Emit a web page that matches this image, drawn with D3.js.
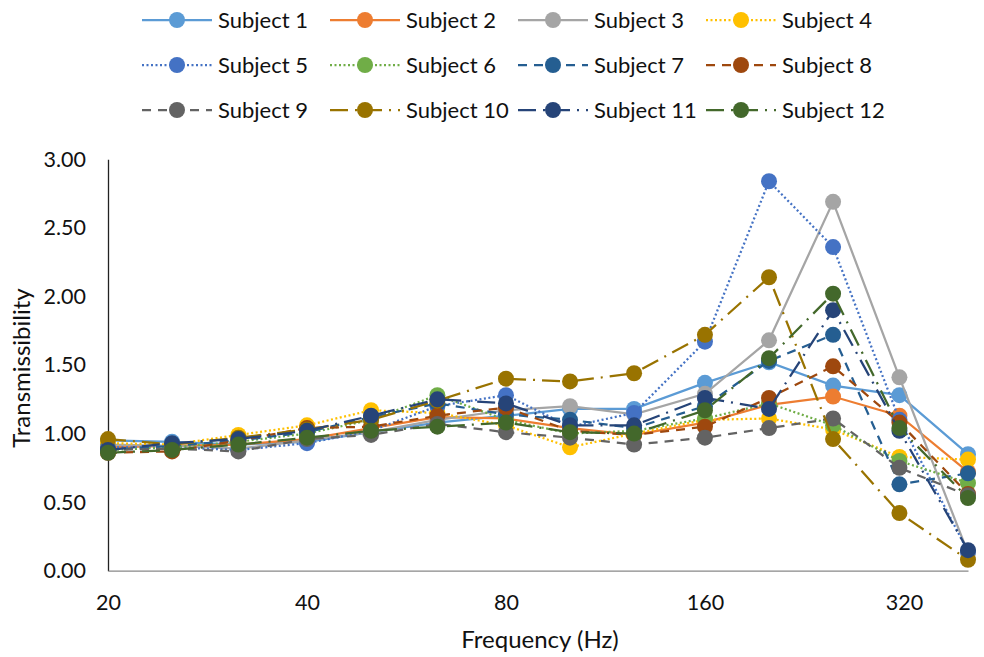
<!DOCTYPE html>
<html><head><meta charset="utf-8">
<script src="https://cdn.jsdelivr.net/npm/d3@7"></script>
<style>
html,body{margin:0;padding:0;background:#fff;}
text{font-family:Lato,"Open Sans",sans-serif;fill:#111;}
</style></head>
<body><svg id="chart" width="984" height="657"></svg>
<script>
const frequencies = [20, 25, 31.5, 40, 50, 63, 80, 100, 125, 160, 200, 250, 315, 400];
const xTickValues = [20, 40, 80, 160, 320];
const yTickValues = [0, 0.5, 1, 1.5, 2, 2.5, 3];
const seriesNames = ["Subject 1","Subject 2","Subject 3","Subject 4","Subject 5","Subject 6","Subject 7","Subject 8","Subject 9","Subject 10","Subject 11","Subject 12"];
const s1  = [0.95, 0.94, 0.92, 0.94, 1.01, 1.08, 1.13, 1.18, 1.18, 1.37, 1.52, 1.35, 1.28, 0.85];
const s2  = [0.90, 0.91, 0.92, 0.96, 1.04, 1.12, 1.11, 1.04, 0.99, 1.08, 1.21, 1.27, 1.13, 0.72];
const s3  = [0.92, 0.91, 0.89, 0.95, 1.01, 1.10, 1.17, 1.20, 1.14, 1.29, 1.68, 2.69, 1.41, 0.13];
const s4  = [0.93, 0.92, 0.99, 1.06, 1.17, 1.15, 1.06, 0.90, 1.00, 1.10, 1.11, 1.03, 0.83, 0.81];
const s5  = [0.90, 0.90, 0.88, 0.93, 1.02, 1.20, 1.28, 1.05, 1.15, 1.67, 2.84, 2.36, 1.10, 0.14];
const s6  = [0.88, 0.90, 0.94, 1.00, 1.10, 1.28, 1.10, 1.00, 1.02, 1.11, 1.22, 1.06, 0.80, 0.64];
const s7  = [0.88, 0.91, 0.95, 1.01, 1.12, 1.22, 1.14, 1.10, 1.04, 1.20, 1.53, 1.72, 0.63, 0.71];
const s8  = [0.86, 0.87, 0.95, 1.04, 1.05, 1.13, 1.19, 1.02, 0.99, 1.05, 1.26, 1.49, 1.08, 0.56];
const s9  = [0.88, 0.89, 0.87, 0.96, 0.99, 1.07, 1.01, 0.97, 0.92, 0.97, 1.04, 1.11, 0.75, 0.55];
const s10 = [0.96, 0.92, 0.97, 1.03, 1.10, 1.24, 1.40, 1.38, 1.44, 1.72, 2.14, 0.96, 0.42, 0.08];
const s11 = [0.88, 0.93, 0.96, 1.02, 1.13, 1.25, 1.22, 1.06, 1.06, 1.26, 1.18, 1.90, 1.02, 0.15];
const s12 = [0.86, 0.88, 0.92, 0.97, 1.02, 1.05, 1.08, 1.01, 1.00, 1.17, 1.55, 2.02, 1.04, 0.53];
const seriesValues = [s1,s2,s3,s4,s5,s6,s7,s8,s9,s10,s11,s12];

const colors = ["#5B9BD5","#ED7D31","#A5A5A5","#FFC000","#4472C4","#70AD47","#255E91","#9E480E","#636363","#997300","#264478","#43682B"];
const dashes = ["none","none","none","2,2.5","2,2.5","2,2.5","9,7","9,7","9,7","18,7,2,7","18,7,2,7","18,7,2,7"];

const svg = d3.select("#chart");
const x = d3.scaleLog().base(2).domain([20, 400]).range([108, 968]);
const y = d3.scaleLinear().domain([0, 3]).range([570.7, 159.3]);

// axes
const yAxis = svg.append("g").attr("transform","translate(108,0)")
  .call(d3.axisLeft(y).tickValues(yTickValues).tickSize(0).tickPadding(22).tickFormat(d3.format(".2f")));
yAxis.select(".domain").attr("stroke","#222").attr("stroke-width",1.3);
yAxis.selectAll("text").style("font-size","21.5px").attr("fill","#111");

const xAxis = svg.append("g").attr("transform","translate(0,570.7)")
  .call(d3.axisBottom(x).tickValues(xTickValues).tickSize(0).tickPadding(24).tickFormat(d3.format("d")));
xAxis.select(".domain").attr("stroke","#888").attr("stroke-width",1.3);
xAxis.selectAll("text").style("font-size","21.5px").attr("fill","#111");

svg.append("text").attr("transform","translate(30,368) rotate(-90)")
  .attr("text-anchor","middle").style("font-size","24px").text("Transmissibility");
svg.append("text").attr("x",540).attr("y",648)
  .attr("text-anchor","middle").style("font-size","24px").text("Frequency (Hz)");

const line = d3.line().x((d,i)=>x(frequencies[i])).y(d=>y(d));

seriesValues.forEach((vals, k) => {
  const g = svg.append("g");
  g.append("path").attr("d", line(vals)).attr("fill","none")
    .attr("stroke", colors[k]).attr("stroke-width", 2.25)
    .attr("stroke-dasharray", dashes[k]);
  g.selectAll("circle").data(vals).join("circle")
    .attr("cx",(d,i)=>x(frequencies[i])).attr("cy",d=>y(d)).attr("r",8)
    .attr("fill", colors[k]);
});

// legend
const legX = [142, 330, 518, 706];
const legY = [20, 65, 110];
seriesNames.forEach((name, k) => {
  const cx = legX[k % 4], cy = legY[Math.floor(k / 4)];
  const g = svg.append("g").attr("transform", `translate(${cx},${cy})`);
  g.append("line").attr("x1",0).attr("x2",70).attr("y1",0).attr("y2",0)
    .attr("stroke", colors[k]).attr("stroke-width",2.25).attr("stroke-dasharray", dashes[k]);
  g.append("circle").attr("cx",35).attr("cy",0).attr("r",8).attr("fill",colors[k]);
  g.append("text").attr("x",76).attr("y",8).style("font-size","22px").text(name);
});
</script>
</body></html>
